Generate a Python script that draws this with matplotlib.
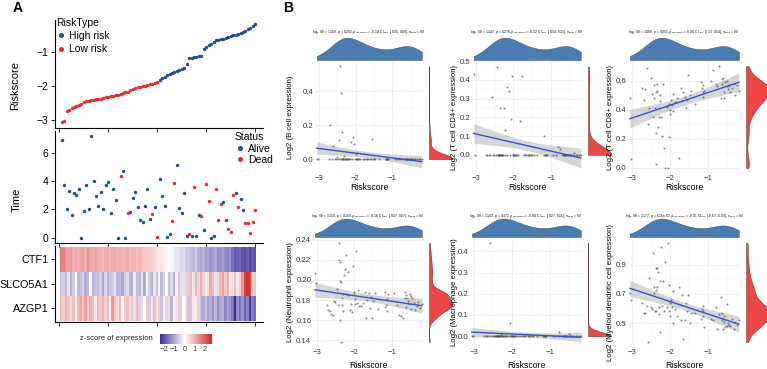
import numpy as np
import matplotlib
matplotlib.use("Agg")
import matplotlib.pyplot as plt
from matplotlib.colors import LinearSegmentedColormap, Normalize
from matplotlib.cm import ScalarMappable
from matplotlib.lines import Line2D
from matplotlib.ticker import FormatStrFormatter

plt.rcParams['font.family'] = ['Liberation Sans', 'DejaVu Sans']
plt.rcParams['mathtext.fontset'] = 'dejavusans'

# ---------------- data ----------------
riskscore = [-3.05, -3.02, -2.73, -2.69, -2.65, -2.61, -2.57, -2.54, -2.51, -2.47,
             -2.44, -2.42, -2.41, -2.39, -2.38, -2.37, -2.36, -2.35, -2.33, -2.32,
             -2.30, -2.29, -2.27, -2.26, -2.23, -2.21, -2.18, -2.16, -2.12, -2.09,
             -2.06, -2.03, -2.02, -2.00, -1.99, -1.97, -1.95, -1.93, -1.91, -1.88,
             -1.81, -1.77, -1.72, -1.68, -1.65, -1.61, -1.58, -1.55, -1.52, -1.49,
             -1.46, -1.36, -1.18, -1.17, -1.15, -1.14, -1.13, -1.11, -0.93, -0.87,
             -0.81, -0.76, -0.71, -0.66, -0.64, -0.63, -0.62, -0.60, -0.58, -0.55,
             -0.51, -0.50, -0.48, -0.46, -0.42, -0.38, -0.34, -0.29, -0.24, -0.20]

time_years = [6.94, 3.72, 2.02, 3.32, 1.60, 3.20, 3.06, 3.44, 0.02, 1.88,
              3.76, 2.00, 7.20, 4.02, 2.94, 2.28, 3.25, 2.02, 3.72, 3.93,
              1.72, 3.44, 2.66, 0.02, 4.38, 4.73, 0.02, 1.72, 1.84, 2.82,
              3.25, 2.19, 1.25, 1.13, 2.24, 3.48, 1.32, 1.65, 2.19, 0.07,
              4.16, 2.96, 2.26, 0.07, 0.24, 1.20, 3.84, 5.15, 2.09, 1.72,
              3.18, 0.12, 0.24, 0.12, 3.60, 0.12, 1.60, 1.53, 0.54, 3.79,
              2.59, 0.00, 0.12, 3.48, 1.25, 2.38, 2.54, 1.27, 0.64, 0.42,
              3.06, 3.20, 2.21, 2.71, 1.93, 1.06, 1.01, 0.31, 1.10, 1.98]

dead = [0, 0, 0, 0, 0, 0, 0, 0, 0, 0,
        0, 0, 0, 0, 0, 0, 0, 0, 0, 0,
        0, 0, 0, 0, 1, 0, 0, 1, 0, 0,
        0, 0, 0, 0, 0, 0, 0, 1, 0, 1,
        0, 0, 0, 0, 0, 1, 1, 0, 0, 0,
        0, 0, 1, 0, 1, 0, 0, 1, 0, 1,
        1, 0, 0, 1, 1, 1, 0, 0, 1, 1,
        1, 0, 1, 0, 0, 1, 1, 1, 1, 1]

genes = ['CTF1', 'SLCO5A1', 'AZGP1']
ctf1 = [1.7, 1.5, 1.2, 1.1, 1.2, 1.0, 1.1, 1.0, 1.1, 1.2,
        1.0, 1.3, 1.1, 1.0, 1.1, 1.0, 1.0, 0.9, 1.0, 1.0,
        0.9, 1.0, 1.1, 0.9, 1.0, 0.9, 0.9, 1.0, 0.8, 0.9,
        0.9, 0.8, 0.9, 0.8, 0.7, 0.7, 0.6, 0.6, 0.5, 0.4,
        0.3, 0.3, 0.2, 0.1, 0.0, -0.1, -0.2, -0.3, -0.3, -0.5,
        -0.4, -0.6, -0.6, -0.7, -0.8, -0.6, -0.9, -1.0, -0.9, -1.1,
        -1.0, -1.2, -1.1, -1.0, -1.3, -1.2, -1.1, -1.3, -1.4, -1.2,
        -1.6, -1.9, -1.8, -1.7, -1.9, -2.0, -1.8, -2.1, -1.9, -2.0]
slco5a1 = [-0.7, -0.5, -0.8, -0.3, -0.9, -0.6, 0.0, -0.8, -0.7, -0.5,
           -1.0, -0.8, 0.1, -0.9, -0.7, -0.8, -0.6, -1.0, -0.5, -0.9,
           -0.7, -0.6, -0.3, -0.9, -0.8, -1.0, -0.6, -0.4, -0.8, -0.9,
           -0.2, -0.7, -0.8, -0.3, -1.0, 0.0, -0.6, -0.9, -0.2, -0.7,
           0.1, -0.8, -0.5, 0.0, -0.7, -0.4, -0.9, 0.2, -0.6, 0.5,
           -0.3, 0.6, -0.5, 0.8, 0.3, 0.9, -0.4, 1.0, 0.6, -0.2,
           0.4, 1.1, 0.8, -0.3, 0.5, 0.9, 1.2, 0.7, 1.0, 0.2,
           0.4, 0.8, 0.3, 0.6, 1.3, 2.3, 2.6, 2.4, 0.5, 0.7]
azgp1 = [0.8, 0.6, 0.9, 0.7, 0.5, 0.8, 0.0, 0.9, 1.1, 0.7,
         1.2, 0.6, 1.0, 0.8, 0.3, 0.9, 0.7, 1.0, 0.6, 0.8,
         0.2, 1.3, 0.7, 0.5, 0.9, 0.1, 0.6, 0.8, -0.3, 0.7,
         0.4, 0.9, -0.5, 0.5, 0.0, 0.7, -0.6, 0.3, 0.8, -0.2,
         0.6, -0.7, 0.2, -0.4, 0.5, -0.9, 0.1, 0.4, -0.5, 0.7,
         0.0, -0.3, 0.9, -0.6, 0.3, -0.2, 0.6, -0.8, -1.0, -0.7,
         -1.1, -0.9, -1.2, -0.8, -1.3, -1.0, -0.9, -1.4, -1.1, -1.2,
         -1.5, -2.4, -1.3, -1.6, -1.2, -1.8, -1.4, -2.3, -1.5, -1.7]

b_cell = [0.00, 0.00, 0.00, 0.20, 0.00, 0.08, 0.00, 0.00, 0.01, 0.00,
          0.11, 0.00, 0.55, 0.39, 0.16, 0.00, 0.00, 0.00, 0.00, 0.00,
          0.02, 0.00, 0.00, 0.00, 0.00, 0.00, 0.00, 0.00, 0.10, 0.00,
          0.13, 0.09, 0.00, 0.03, 0.00, 0.00, 0.00, 0.00, 0.00, 0.00,
          0.00, 0.00, 0.00, 0.00, 0.00, 0.00, 0.00, 0.12, 0.00, 0.00,
          0.00, 0.00, 0.00, 0.00, 0.00, 0.00, 0.00, 0.00, 0.00, 0.00,
          0.00, 0.00, 0.00, 0.00, 0.00, 0.00, 0.00, 0.00, 0.00, 0.00,
          0.00, 0.00, 0.00, 0.00, 0.00, 0.00, 0.00, 0.00, 0.00, 0.00]
t_cd4 = [0.43, 0.00, 0.00, 0.00, 0.00, 0.00, 0.31, 0.00, 0.00, 0.00,
         0.47, 0.00, 0.00, 0.00, 0.00, 0.00, 0.00, 0.25, 0.00, 0.00,
         0.00, 0.00, 0.00, 0.25, 0.13, 0.00, 0.36, 0.00, 0.34, 0.00,
         0.19, 0.42, 0.00, 0.00, 0.00, 0.00, 0.00, 0.00, 0.00, 0.00,
         0.18, 0.42, 0.00, 0.00, 0.00, 0.00, 0.00, 0.00, 0.00, 0.00,
         0.00, 0.00, 0.10, 0.00, 0.00, 0.00, 0.00, 0.00, 0.00, 0.00,
         0.04, 0.03, 0.00, 0.00, 0.00, 0.00, 0.00, 0.00, 0.00, 0.00,
         0.00, 0.00, 0.00, 0.00, 0.00, 0.01, 0.00, 0.00, 0.00, 0.00]
t_cd8 = [0.48, 0.06, 0.55, 0.47, 0.54, 0.69, 0.30, 0.41, 0.62, 0.51,
         0.35, 0.57, 0.48, 0.41, 0.24, 0.03, 0.52, 0.58, 0.53, 0.28,
         0.41, 0.35, 0.46, 0.50, 0.35, 0.22, 0.58, 0.14, 0.00, 0.42,
         0.00, 0.21, 0.44, 0.40, 0.37, 0.47, 0.43, 0.39, 0.51, 0.45,
         0.48, 0.07, 0.55, 0.46, 0.52, 0.49, 0.41, 0.47, 0.64, 0.50,
         0.53, 0.44, 0.59, 0.55, 0.52, 0.49, 0.57, 0.53, 0.60, 0.67,
         0.58, 0.56, 0.70, 0.48, 0.61, 0.58, 0.62, 0.52, 0.48, 0.59,
         0.56, 0.60, 0.54, 0.56, 0.52, 0.55, 0.58, 0.50, 0.57, 0.53]
neutrophil = [0.207, 0.197, 0.175, 0.170, 0.169, 0.166, 0.165, 0.179, 0.178, 0.191,
              0.175, 0.237, 0.220, 0.218, 0.199, 0.160, 0.138, 0.198, 0.182, 0.175,
              0.169, 0.186, 0.205, 0.211, 0.186, 0.225, 0.208, 0.185, 0.170, 0.176,
              0.168, 0.214, 0.188, 0.185, 0.176, 0.181, 0.229, 0.177, 0.190, 0.174,
              0.174, 0.177, 0.188, 0.162, 0.180, 0.187, 0.172, 0.183, 0.162, 0.179,
              0.187, 0.171, 0.188, 0.173, 0.175, 0.181, 0.169, 0.186, 0.187, 0.175,
              0.165, 0.164, 0.162, 0.182, 0.188, 0.185, 0.173, 0.182, 0.179, 0.176,
              0.186, 0.184, 0.171, 0.182, 0.177, 0.170, 0.174, 0.178, 0.172, 0.176]
macrophage = [0.00, 0.00, 0.00, 0.00, 0.00, 0.00, 0.44, 0.00, 0.00, 0.00,
              0.00, 0.00, 0.00, 0.00, 0.00, 0.00, 0.00, 0.00, 0.00, 0.00,
              0.01, 0.00, 0.00, 0.00, 0.00, 0.00, 0.00, 0.00, 0.00, 0.00,
              0.06, 0.00, 0.00, 0.00, 0.00, 0.00, 0.00, 0.00, 0.00, 0.00,
              0.00, 0.00, 0.00, 0.00, 0.00, 0.01, 0.00, 0.00, 0.00, 0.00,
              0.00, 0.00, 0.00, 0.00, 0.00, 0.00, 0.00, 0.00, 0.00, 0.00,
              0.00, 0.02, 0.00, 0.00, 0.00, 0.00, 0.00, 0.00, 0.00, 0.00,
              0.01, 0.00, 0.00, 0.00, 0.00, 0.00, 0.00, 0.00, 0.00, 0.00]
myeloid_dc = [0.71, 0.66, 0.64, 0.57, 0.57, 0.62, 0.37, 0.81, 0.61, 0.60,
              0.98, 0.75, 0.71, 0.58, 0.88, 0.73, 0.58, 0.75, 0.88, 0.85,
              0.56, 0.61, 0.79, 0.44, 1.02, 0.62, 0.79, 0.58, 0.92, 0.61,
              1.05, 0.76, 0.58, 0.55, 0.64, 0.66, 0.61, 0.72, 0.50, 0.60,
              0.55, 0.75, 0.52, 0.69, 0.39, 0.52, 0.64, 0.58, 0.69, 0.50,
              0.57, 0.57, 0.53, 0.60, 0.55, 0.62, 0.58, 0.47, 0.53, 0.52,
              0.61, 0.46, 0.56, 0.68, 0.57, 0.52, 0.46, 0.51, 0.55, 0.47,
              0.63, 0.48, 0.50, 0.49, 0.48, 0.53, 0.46, 0.51, 0.49, 0.52]

cell_labels = ['Log2 (B cell expression)', 'Log2 (T cell CD4+ expression)',
               'Log2 (T cell CD8+ expression)', 'Log2 (Neutrophil expression)',
               'Log2 (Macrophage expression)', 'Log2 (Myeloid dendritic cell expression)']
stat_titles = [
    r"$\log_e(S)$ = 11.69, $p$ = 0.202, $\widehat{\rho}_{Spearman}$ = -0.14, CI$_{95\%}$ [-0.35, 0.08], $n_{pairs}$ = 80",
    r"$\log_e(S)$ = 11.47, $p$ = 0.276, $\widehat{\rho}_{Spearman}$ = -0.12, CI$_{95\%}$ [-0.34, 0.11], $n_{pairs}$ = 80",
    r"$\log_e(S)$ = 10.88, $p$ = 0.001, $\widehat{\rho}_{Spearman}$ = 0.36, CI$_{95\%}$ [0.15, 0.54], $n_{pairs}$ = 80",
    r"$\log_e(S)$ = 11.50, $p$ = 0.169, $\widehat{\rho}_{Spearman}$ = -0.16, CI$_{95\%}$ [-0.37, 0.07], $n_{pairs}$ = 80",
    r"$\log_e(S)$ = 11.43, $p$ = 0.472, $\widehat{\rho}_{Spearman}$ = -0.08, CI$_{95\%}$ [-0.27, 0.16], $n_{pairs}$ = 80",
    r"$\log_e(S)$ = 11.77, $p$ = 6.16e-07, $\widehat{\rho}_{Spearman}$ = -0.52, CI$_{95\%}$ [-0.67, -0.33], $n_{pairs}$ = 80",
]
cell_yticks = [[0.0, 0.2, 0.4], [0.0, 0.1, 0.2, 0.3, 0.4, 0.5], [0.0, 0.2, 0.4, 0.6],
               [0.14, 0.16, 0.18, 0.20, 0.22, 0.24], [0.0, 0.1, 0.2, 0.3, 0.4], [0.5, 0.7, 0.9]]
cell_yfmt = ['%.1f', '%.1f', '%.1f', '%.2f', '%.1f', '%.1f']

# ---------------- figure ----------------
W, H = 767, 369
fig = plt.figure(figsize=(W / 100, H / 100), dpi=100)


def px_axes(l, t, r, b):
    return fig.add_axes([l / W, 1 - b / H, (r - l) / W, (b - t) / H])


def ftext(x, y, s, **kw):
    return fig.text(x / W, 1 - y / H, s, **kw)


risk = np.array(riskscore)
N = len(risk)
patient = np.arange(1, N + 1)
high = risk > np.median(risk)
dead_arr = np.array(dead, bool)
t_arr = np.array(time_years)

BLUE_A = '#1F4E96'
RED_A = '#F0262B'
xlimA = (-1.94, 82.96)
xticksA = [0, 20, 40, 60, 80]


def style_A(ax):
    for s in ['top', 'right']:
        ax.spines[s].set_visible(False)
    for s in ['left', 'bottom']:
        ax.spines[s].set_linewidth(0.8)
    ax.tick_params(length=3, width=0.6, labelsize=7.5, pad=1.5, colors='black')
    ax.set_xlim(xlimA)
    ax.set_xticks(xticksA)
    ax.set_xticklabels([])
    ax.patch.set_alpha(0)


# Risk score panel
axR = px_axes(54.5, 20, 262.5, 128)
axR.scatter(patient[high], risk[high], s=6, color=BLUE_A, lw=0)
axR.scatter(patient[~high], risk[~high], s=6, color=RED_A, lw=0)
axR.set_ylim(-3.22, -0.07)
axR.set_yticks([-3, -2, -1])
style_A(axR)
h1 = [Line2D([], [], ls='none', marker='o', ms=2.6, color=BLUE_A, label='High risk'),
      Line2D([], [], ls='none', marker='o', ms=2.6, color=RED_A, label='Low risk')]
leg1 = axR.legend(handles=h1, title='RiskType', loc='upper left',
                  bbox_to_anchor=(56 / W, 1 - 18 / H), bbox_transform=fig.transFigure,
                  frameon=False, fontsize=7.5, title_fontsize=7.5, borderpad=0,
                  handletextpad=0.35, labelspacing=0.3, handlelength=0.9,
                  borderaxespad=0, alignment='left')

# Time panel
axT = px_axes(54.5, 131, 262.5, 243.3)
axT.scatter(patient[~dead_arr], t_arr[~dead_arr], s=6, color=BLUE_A, lw=0)
axT.scatter(patient[dead_arr], t_arr[dead_arr], s=6, color=RED_A, lw=0)
axT.set_ylim(-0.39, 7.55)
axT.set_yticks([0, 2, 4, 6])
style_A(axT)
h2 = [Line2D([], [], ls='none', marker='o', ms=2.6, color=BLUE_A, label='Alive'),
      Line2D([], [], ls='none', marker='o', ms=2.6, color=RED_A, label='Dead')]
leg2 = axT.legend(handles=h2, title='Status', loc='upper left',
                  bbox_to_anchor=(235 / W, 1 - 132 / H), bbox_transform=fig.transFigure,
                  frameon=False, fontsize=7.5, title_fontsize=7.5, borderpad=0,
                  handletextpad=0.35, labelspacing=0.15, handlelength=0.9,
                  borderaxespad=0, alignment='left')

# Heatmap
zmin, zmax = -2.4, 2.7
cmap = LinearSegmentedColormap.from_list(
    'pw_r', [(0.0, '#3A2C9B'), ((0 - zmin) / (zmax - zmin), '#FFFFFF'), (1.0, '#D52422')])
norm = Normalize(zmin, zmax)
axH = px_axes(54.5, 246, 262.5, 322)
heat = np.array([ctf1, slco5a1, azgp1])
axH.imshow(heat, aspect='auto', cmap=cmap, norm=norm, interpolation='nearest',
           extent=(0.5, N + 0.5, len(genes), 0))
axH.set_ylim(3.06, -0.04)
axH.set_yticks(np.arange(len(genes)) + 0.5)
axH.set_yticklabels(genes)
style_A(axH)
axH.tick_params(axis='y', labelsize=7.8)

# colorbar
cax = px_axes(160, 334, 212, 344)
cb = fig.colorbar(ScalarMappable(norm=norm, cmap=cmap), cax=cax, orientation='horizontal',
                  ticks=[-2, -1, 0, 1, 2])
cb.outline.set_visible(False)
cax.tick_params(length=0, labelsize=5.5, pad=1.5, colors='#333333')
ftext(153, 339, 'z-score of expression', ha='right', va='center', fontsize=5.5, color='#222222')

ftext(15, 86, 'Riskscore', rotation=90, ha='center', va='center', fontsize=8)
ftext(17, 200, 'Time', rotation=90, ha='center', va='center', fontsize=8)
ftext(18, 8, 'A', ha='center', va='center', fontsize=10, fontweight='bold')
ftext(288, 8, 'B', ha='center', va='center', fontsize=10, fontweight='bold')

# ---------------- panel B ----------------
BLUE_B = '#4A7CB4'
RED_B = '#EE4545'
xlimB = (-3.10, -0.17)


def kde(vals, grid):
    v = np.asarray(vals, float)
    n = len(v)
    sd = v.std(ddof=1)
    q75, q25 = np.percentile(v, [75, 25])
    lo = min(sd, (q75 - q25) / 1.34)
    if lo <= 0:
        lo = sd if sd > 0 else 1.0
    bw = 0.9 * lo * n ** -0.2
    z = (grid[:, None] - v[None, :]) / bw
    return np.exp(-0.5 * z ** 2).sum(1) / (n * bw * np.sqrt(2 * np.pi))


def lm_ci(x, y, grid):
    n = len(x)
    X = np.column_stack([np.ones(n), x])
    beta = np.linalg.lstsq(X, y, rcond=None)[0]
    res = y - X @ beta
    s2 = res @ res / (n - 2)
    inv = np.linalg.inv(X.T @ X)
    G = np.column_stack([np.ones_like(grid), grid])
    fit = G @ beta
    se = np.sqrt(np.einsum('ij,jk,ik->i', G, inv, G) * s2)
    tq = 1.9908
    return fit, fit - tq * se, fit + tq * se


cells = [b_cell, t_cd4, t_cd8, neutrophil, macrophage, myeloid_dc]
panel_rects = [(315, 61, 423, 173), (472, 61, 582, 173), (628, 61, 740, 173),
               (313, 238, 423, 347), (470, 238, 582, 347), (628, 238, 740, 347)]
dens_tops = [37, 37, 37, 218, 218, 218]
ylabel_x = [290, 455, 610, 290, 455, 610]
title_y = [32, 32, 32, 216, 216, 216]
xlabel_y = [187, 187, 187, 366, 366, 366]

for k in range(6):
    l, t, r, b = panel_rects[k]
    y = np.array(cells[k], float)
    x = risk
    ax = px_axes(l, t, r, b)
    g = np.linspace(x.min(), x.max(), 120)
    fit, lo, hi = lm_ci(x, y, g)
    ymin = min(y.min(), lo.min())
    ymax = max(y.max(), hi.max())
    pad = 0.05 * (ymax - ymin)
    ax.set_ylim(ymin - pad, ymax + pad)
    ax.set_xlim(xlimB)
    ax.fill_between(g, lo, hi, color='#999999', alpha=0.4, lw=0, zorder=2)
    ax.scatter(x, y, s=2.2, color='#4D4D4D', alpha=0.65, lw=0, zorder=3)
    ax.plot(g, fit, color='#3452C8', lw=1.0, zorder=4)
    ax.set_xticks([-3, -2, -1])
    ax.set_xticks([-2.5, -1.5, -0.5], minor=True)
    yt = cell_yticks[k]
    ax.set_yticks(yt)
    ax.set_yticks([(a + c) / 2 for a, c in zip(yt[:-1], yt[1:])], minor=True)
    ax.yaxis.set_major_formatter(FormatStrFormatter(cell_yfmt[k]))
    ax.grid(True, which='major', color='#EBEBEB', lw=0.5, zorder=0)
    ax.grid(True, which='minor', color='#F3F3F3', lw=0.3, zorder=0)
    for s in ax.spines.values():
        s.set_visible(False)
    ax.tick_params(which='both', length=0, labelsize=5.6, pad=1.2, colors='#333333')
    ax.set_axisbelow(True)
    ftext((l + r) / 2, xlabel_y[k], 'Riskscore', ha='center', va='center', fontsize=6.2)
    ftext(ylabel_x[k], (t + b) / 2, cell_labels[k], rotation=90, ha='center',
          va='center', fontsize=5.6)
    ftext((l + r) / 2, title_y[k], stat_titles[k], ha='center', va='center', fontsize=2.3)

    # top marginal density
    axd = px_axes(l, dens_tops[k], r, t - 1)
    xg = np.linspace(x.min(), x.max(), 200)
    d = kde(x, xg)
    axd.fill_between(xg, 0, d, facecolor=BLUE_B, edgecolor='#2B3E55', lw=0.3)
    axd.set_xlim(xlimB)
    axd.set_ylim(0, d.max() * 1.03)
    axd.axis('off')

    # right marginal density
    axr = px_axes(r + 6, t, r + 30, b)
    yg = np.linspace(y.min(), y.max(), 300)
    dy = kde(y, yg)
    axr.fill_betweenx(yg, 0, dy, facecolor=RED_B, edgecolor='#3A2020', lw=0.3)
    axr.set_ylim(ax.get_ylim())
    axr.set_xlim(0, dy.max() * 1.03)
    axr.axis('off')

fig.savefig('out.png', dpi=100)
